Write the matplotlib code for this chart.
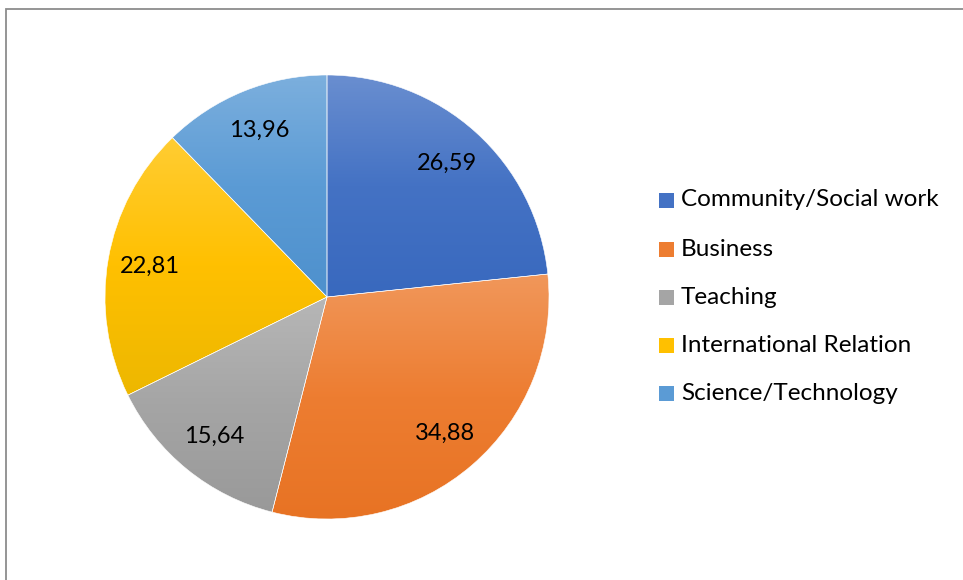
import numpy as np
import matplotlib.pyplot as plt
from matplotlib.colors import LinearSegmentedColormap, to_rgb
from matplotlib.patches import Rectangle

categories = ['Community/Social work', 'Business', 'Teaching',
              'International Relation', 'Science/Technology']
values = [26.59, 34.88, 15.64, 22.81, 13.96]
value_labels = ['26,59', '34,88', '15,64', '22,81', '13,96']
colors = ['#4472C4', '#ED7D31', '#A5A5A5', '#FFC000', '#5B9BD5']

plt.rcParams['font.family'] = ['Lato', 'DejaVu Sans']

W, H = 963, 580
fig = plt.figure(figsize=(W / 100, H / 100), dpi=100)

# chart frame (only top and left edges are inside the picture)
fig.patches.append(Rectangle((6 / W, -0.1), 1.2, (H - 9) / H + 0.1,
                             transform=fig.transFigure, fill=False,
                             edgecolor='#8c8c8c', linewidth=1.3))

cx, cy, r = 327, 297, 222
ax = fig.add_axes([(cx - r) / W, (H - cy - r) / H, 2 * r / W, 2 * r / H])

wedges, _ = ax.pie(values, radius=1, startangle=90, counterclock=False,
                   colors=colors, wedgeprops=dict(edgecolor='white', linewidth=0.4))


def light(c, f):
    c = np.array(to_rgb(c))
    return tuple(c + (1 - c) * f)


def deep(c, sat, f):
    c = np.array(to_rgb(c))
    g = c.mean()
    c = np.clip(g + (c - g) * sat, 0, 1) * f
    return tuple(c)


# vertical gradient over each slice, light at top
grad = np.linspace(0, 1, 256).reshape(-1, 1)
for w, c in zip(wedges, colors):
    cmap = LinearSegmentedColormap.from_list('g', [light(c, 0.2), c, deep(c, 1.12, 0.93)])
    w.set_facecolor('none')
    bb = w.get_path().get_extents()
    im = ax.imshow(grad, extent=(bb.x0, bb.x1, bb.y0, bb.y1), origin='upper',
                   cmap=cmap, aspect='auto', zorder=0.5)
    im.set_clip_path(w)

total = sum(values)
start = 90.0
for v, lab in zip(values, value_labels):
    ang = np.deg2rad(start - v / total * 360 / 2)
    d = 0.81
    ax.text(d * np.cos(ang), d * np.sin(ang), lab, ha='center', va='center',
            fontsize=17, color='black', zorder=3)
    start -= v / total * 360

ax.set_xlim(-1, 1)
ax.set_ylim(-1, 1)
ax.set_aspect('auto')
ax.axis('off')

# legend
ys = [200, 249, 297, 345, 393]
for name, c, y in zip(categories, colors, ys):
    fig.patches.append(Rectangle((659 / W, (H - y - 7.5) / H), 15 / W, 15 / H,
                                 transform=fig.transFigure,
                                 facecolor=c, edgecolor='none'))
    fig.text(681 / W, (H - y) / H, name, ha='left', va='center',
             fontsize=17.5, color='black')

fig.savefig('out.png', dpi=100)
